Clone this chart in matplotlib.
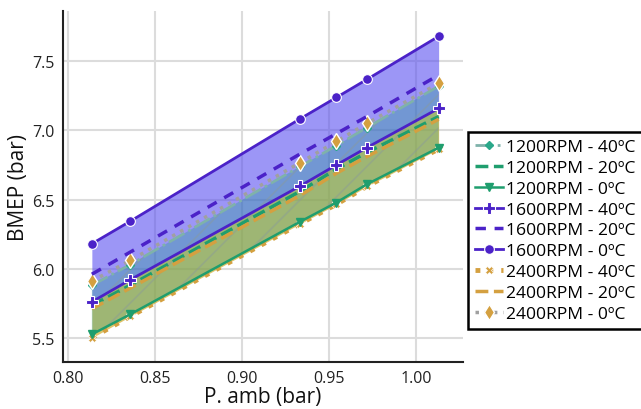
import matplotlib
matplotlib.use("Agg")
import matplotlib.pyplot as plt

plt.rcParams['font.family'] = ['Open Sans', 'DejaVu Sans']
plt.rcParams['hatch.linewidth'] = 1.2

p_amb = [0.8137, 0.8358, 0.9335, 0.9543, 0.9718, 1.0131]

rpm1200_40 = [5.88, 6.03, 6.74, 6.89, 7.02, 7.32]
rpm1200_20 = [5.735, 5.88, 6.56, 6.72, 6.84, 7.10]
rpm1200_0 = [5.525, 5.67, 6.34, 6.478, 6.61, 6.875]
rpm1600_40 = [5.76, 5.92, 6.598, 6.75, 6.875, 7.159]
rpm1600_20 = [5.96, 6.12, 6.83, 6.976, 7.10, 7.40]
rpm1600_0 = [6.18, 6.343, 7.084, 7.238, 7.368, 7.68]
rpm2400_40 = [5.50, 5.655, 6.325, 6.465, 6.595, 6.865]
rpm2400_20 = [5.71, 5.86, 6.53, 6.69, 6.81, 7.08]
rpm2400_0 = [5.91, 6.06, 6.767, 6.92, 7.05, 7.34]

xticks = [0.80, 0.85, 0.90, 0.95, 1.00]
yticks = [5.5, 6.0, 6.5, 7.0, 7.5]

c1200 = '#1f9e6e'
c1600 = '#4b22c8'
c2400 = '#d4a040'

fig = plt.figure(figsize=(6.41, 4.10), dpi=100)
ax = fig.add_axes([0.098, 0.1146, 0.624, 0.855])

# fills
ax.fill_between(p_amb, rpm1600_40, rpm2400_40, color='#d0ae30', alpha=0.72, lw=0, zorder=1)
ax.fill_between(p_amb, rpm1600_0, rpm1600_40, color='#5a50f0', alpha=0.6, lw=0, zorder=2)
ax.fill_between(p_amb, rpm1200_40, rpm1200_0, facecolor='#1a9a8a', alpha=0.32, lw=0, zorder=3)
ax.fill_between(p_amb, rpm1200_40, rpm1200_0, facecolor='none', edgecolor='#8a9a9a',
                hatch='/', lw=0, alpha=0.45, zorder=3)

# lines
ax.plot(p_amb, rpm2400_40, color=c2400, ls=':', lw=3.5, marker='X', ms=6,
        mec='white', mew=0.5, label='2400RPM - 40ºC', zorder=5)
ax.plot(p_amb, rpm1200_0, color=c1200, ls='-', lw=1.8, marker='v', ms=6,
        label='1200RPM - 0ºC', zorder=6)
ax.plot(p_amb, rpm1200_40, color='#7fb2aa', ls='-.', lw=2, marker='D', ms=4,
        mfc='#2aa88a', mec='#2aa88a', label='1200RPM - 40ºC', zorder=5)
ax.plot(p_amb, rpm1200_20, color=c1200, ls='--', lw=2.5, label='1200RPM - 20ºC', zorder=6)
ax.plot(p_amb, rpm2400_20, color=c2400, ls='--', lw=2.5, label='2400RPM - 20ºC', zorder=6)
ax.plot(p_amb, rpm2400_0, color='#a0a0a0', ls=':', lw=2.5, marker='d', ms=8,
        mfc=c2400, mec='white', mew=1, label='2400RPM - 0ºC', zorder=6)
ax.plot(p_amb, rpm1600_40, color=c1600, ls='-', lw=2, marker='P', ms=9,
        mec='white', mew=0.8, label='1600RPM - 40ºC', zorder=7)
ax.plot(p_amb, rpm1600_20, color=c1600, ls=(0, (3, 2.5)), lw=2.5, label='1600RPM - 20ºC', zorder=7)
ax.plot(p_amb, rpm1600_0, color=c1600, ls='-', lw=2, marker='o', ms=7,
        mec='white', mew=0.8, label='1600RPM - 0ºC', zorder=7)

ax.set_xlim(0.797, 1.027)
ax.set_ylim(5.325, 7.86)
ax.set_xticks(xticks)
ax.set_xticklabels([f'{v:.2f}' for v in xticks])
ax.set_yticks(yticks)
ax.set_yticklabels([f'{v:.1f}' for v in yticks])
ax.grid(True, color='#dcdcdc', lw=1.5, zorder=0)
ax.set_axisbelow(True)
for s in ['top', 'right']:
    ax.spines[s].set_visible(False)
for s in ['left', 'bottom']:
    ax.spines[s].set_linewidth(1.5)
    ax.spines[s].set_color('#222222')
ax.tick_params(length=0, labelsize=11.5, pad=6, colors='#222222')
ax.set_xlabel('P. amb (bar)', fontsize=15, labelpad=0, color='#111111')
ax.set_ylabel('BMEP (bar)', fontsize=15, labelpad=2, color='#111111')

handles, labels = ax.get_legend_handles_labels()
order = ['1200RPM - 40ºC', '1200RPM - 20ºC', '1200RPM - 0ºC',
         '1600RPM - 40ºC', '1600RPM - 20ºC', '1600RPM - 0ºC',
         '2400RPM - 40ºC', '2400RPM - 20ºC', '2400RPM - 0ºC']
hd = dict(zip(labels, handles))
leg = fig.legend([hd[l] for l in order], order, loc='upper left',
                 bbox_to_anchor=(468 / 641, 1 - 133 / 410), fontsize=12.6,
                 frameon=True, fancybox=False, edgecolor='black', framealpha=1,
                 handlelength=1.6, handletextpad=0.15, labelspacing=0.26,
                 borderpad=0.4, borderaxespad=0)
leg.get_frame().set_linewidth(1.8)

fig.savefig('out.png', dpi=100)
